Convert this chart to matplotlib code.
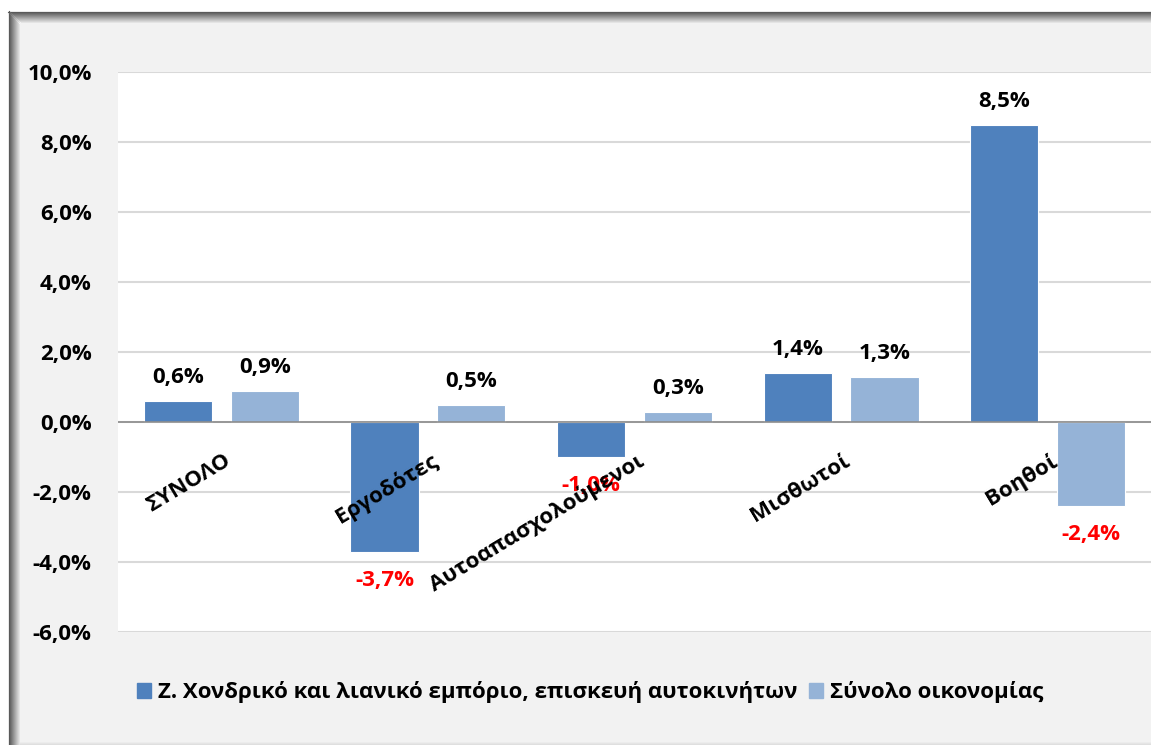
import matplotlib.pyplot as plt
import matplotlib.lines as mlines
import matplotlib.patches as mpatches
import numpy as np

# data
categories = ['ΣΥΝΟΛΟ', 'Εργοδότες', 'Αυτοαπασχολούμενοι', 'Μισθωτοί', 'Βοηθοί']
sector = [0.6, -3.7, -1.0, 1.4, 8.5]
economy = [0.9, 0.5, 0.3, 1.3, -2.4]
series_names = ['Ζ. Χονδρικό και λιανικό εμπόριο, επισκευή αυτοκινήτων',
                'Σύνολο οικονομίας']
yticks = [-6, -4, -2, 0, 2, 4, 6, 8, 10]

plt.rcParams['font.family'] = ['Open Sans', 'DejaVu Sans']
plt.rcParams['font.weight'] = 'bold'
FS = 16

W, H = 1151, 745
fig = plt.figure(figsize=(W / 100, H / 100), dpi=100, facecolor='white')

# chart frame with inner shadow on left/top
fx0, fy0 = 8, 11
fig.add_artist(mpatches.Rectangle((fx0 / W, 0), 1 - fx0 / W, 1 - fy0 / H,
                                  transform=fig.transFigure, facecolor='#f2f2f2',
                                  edgecolor='none', zorder=0))
shadow = np.linspace(0.35, 0.95, 12)
for i, c in enumerate(shadow):
    col = (c, c, c)
    fig.add_artist(mlines.Line2D([(fx0 + i + 0.5) / W] * 2, [0, 1 - (fy0 + i) / H],
                                 transform=fig.transFigure, color=col, lw=0.8, zorder=0.5))
    fig.add_artist(mlines.Line2D([(fx0 + i) / W, 1], [1 - (fy0 + i + 0.5) / H] * 2,
                                 transform=fig.transFigure, color=col, lw=0.8, zorder=0.5))
for i, c in enumerate(np.linspace(0.85, 0.95, 5)):
    fig.add_artist(mlines.Line2D([(fx0 + 12) / W, 1], [(i + 0.5) / H] * 2,
                                 transform=fig.transFigure, color=(c, c, c), lw=0.8, zorder=0.5))

ax = fig.add_axes([118 / W, 1 - 632 / H, 1 - 118 / W, (632 - 72) / H])
ax.set_facecolor('white')

x = np.arange(len(categories))
w = 0.33
off = 0.21
b1 = ax.bar(x - off, sector, w, color='#4f81bd', edgecolor='white', linewidth=0.8, zorder=3)
b2 = ax.bar(x + off, economy, w, color='#95b3d7', edgecolor='white', linewidth=0.8, zorder=3)

ax.set_xlim(-0.5, len(categories) - 0.5)
ax.set_ylim(-6, 10)
ax.set_yticks(yticks)
ax.set_yticklabels([f'{t:.1f}%'.replace('.', ',') for t in yticks], fontsize=FS, fontweight='bold')
ax.tick_params(axis='y', length=0, pad=19)
ax.set_xticks([])
ax.grid(axis='y', color='#d9d9d9', linewidth=1.5, zorder=0)
ax.axhline(0, color='#8c8c8c', linewidth=1.2, zorder=4)
for s in ax.spines.values():
    s.set_visible(False)

# data labels
for bars, vals in ((b1, sector), (b2, economy)):
    for bar, v in zip(bars, vals):
        cx = bar.get_x() + bar.get_width() / 2
        lab = f'{v:.1f}%'.replace('.', ',')
        if v >= 0:
            ax.annotate(lab, (cx, v), xytext=(0, 9), textcoords='offset points',
                        ha='center', va='bottom', fontsize=FS, fontweight='bold',
                        color='black', zorder=5)
        else:
            ax.annotate(lab, (cx, v), xytext=(0, -13), textcoords='offset points',
                        ha='center', va='top', fontsize=FS, fontweight='bold',
                        color='#ff0000', zorder=5)

# category labels, rotated, just below zero line
for i, cat in enumerate(categories):
    ax.text(i + 0.01, -0.8, cat, rotation=31, rotation_mode='anchor',
            ha='right', va='top', fontsize=FS, fontweight='bold', zorder=6)

handles = [mpatches.Patch(color='#4f81bd'), mpatches.Patch(color='#95b3d7')]
fig.legend(handles, series_names, loc='center', bbox_to_anchor=(590 / W, 1 - 692 / H),
           ncol=2, frameon=False, handlelength=0.65, handleheight=0.65,
           handletextpad=0.3, columnspacing=0.5, prop={'weight': 'bold', 'size': FS})

fig.savefig('out.png', dpi=100, facecolor=fig.get_facecolor())
